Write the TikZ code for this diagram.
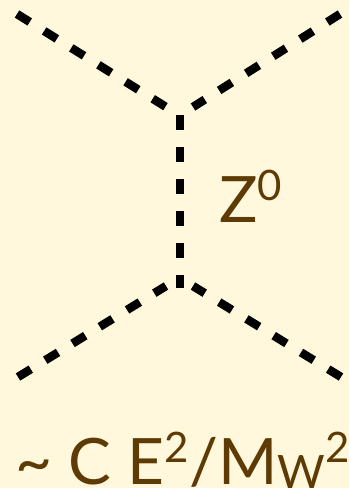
\documentclass[tikz,border=0pt]{standalone}
\usepackage{fontspec}
\setmainfont{Lato}
\definecolor{bg}{RGB}{255,248,220}
\definecolor{txt}{RGB}{94,58,4}
\newcommand{\mysup}[1]{\raisebox{22pt}{\fontsize{42pt}{42pt}\selectfont #1}}
\newcommand{\mysub}[1]{\raisebox{-4pt}{\fontsize{46pt}{46pt}\selectfont #1}}
\begin{document}
\begin{tikzpicture}[x=1pt,y=-1pt,
  prop/.style={line width=8.5pt, dash pattern=on 15pt off 17pt, black},
  lbl/.style={text=txt, inner sep=0pt, font=\fontsize{64pt}{64pt}\selectfont}]
\fill[bg] (0,0) rectangle (349,488);
\useasboundingbox (0,0) rectangle (349,488);
\coordinate (a1) at (17,14);
\coordinate (a2) at (166,107);
\coordinate (b1) at (340,14);
\coordinate (b2) at (193,107);
\coordinate (v1) at (180,115);
\coordinate (v2) at (180,288);
\coordinate (c1) at (166,286);
\coordinate (c2) at (18,377);
\coordinate (d1) at (193,286);
\coordinate (d2) at (341,377);
\draw[prop] (a1) -- (a2);
\draw[prop] (b1) -- (b2);
\draw[prop] (v1) -- (v2);
\draw[prop] (c2) -- (c1);
\draw[prop] (d2) -- (d1);
\node[lbl, anchor=base west] (z) at (219,222) {Z\mysup{0}};
\node[lbl, anchor=base west] (f) at (15,484) {\textasciitilde{} C E\mysup{2}/M\mysub{W}\mysup{2}};
\end{tikzpicture}
\end{document}
